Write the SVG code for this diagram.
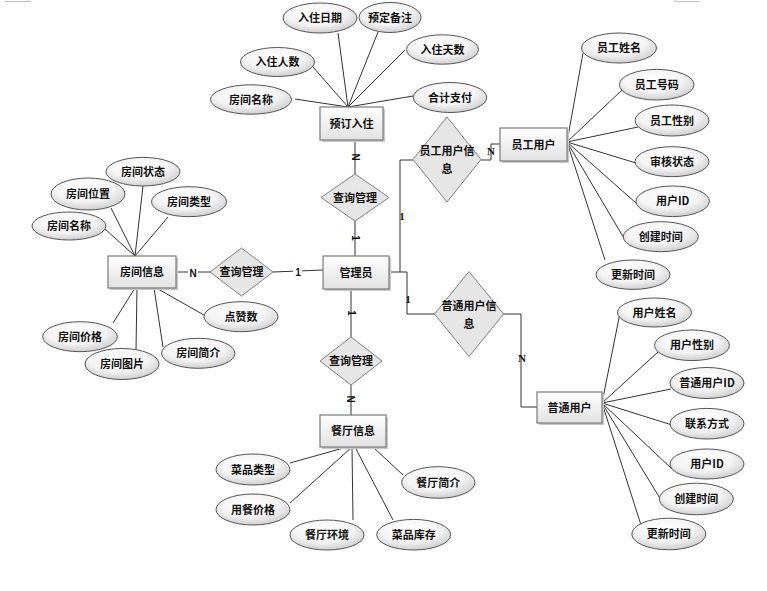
<svg xmlns="http://www.w3.org/2000/svg" width="767" height="591" viewBox="0 0 767 591">
<defs>
<radialGradient id="eg" cx="45%" cy="35%" r="65%">
<stop offset="0" stop-color="#ffffff"/>
<stop offset="0.6" stop-color="#f4f4f4"/>
<stop offset="1" stop-color="#cfcfcf"/>
</radialGradient>
<linearGradient id="rg" x1="0" y1="0" x2="0" y2="1">
<stop offset="0" stop-color="#ffffff"/>
<stop offset="1" stop-color="#e2e2e2"/>
</linearGradient>
<style>
.e{fill:url(#eg);stroke:#555;stroke-width:1}
.r{fill:url(#rg);stroke:#7a7a7a;stroke-width:1.2}
.sh{fill:#c8c8c8}
.d{fill:#e6e6e6;stroke:#808080;stroke-width:1}
.t{font-family:"Noto Sans CJK SC","Noto Sans CJK JP",sans-serif;font-size:11px;font-weight:bold;fill:#111;text-anchor:middle}
.l{font-family:"Liberation Serif",serif;font-size:11px;font-weight:bold;fill:#111;text-anchor:middle}
.ls{font-family:"Liberation Sans",sans-serif;font-size:10px;font-weight:bold;fill:#111;text-anchor:middle}
.c{fill:none;stroke:#333;stroke-width:1}
.m{fill:none;stroke:#c0c0c0;stroke-width:1}
</style>
</defs>
<rect width="767" height="591" fill="#ffffff"/>
<g id="corner-marks">
<path class="m" d="M5 1.5H30V0M675 0V1.5H700"/>
</g>
<g id="connectors">
<!-- 预订入住 attributes -->
<path class="c" d="M348 107L295 99M348 107L313 67M348 107L338 33M348 107L378 32M348 107L405 50M348 107L413 96"/>
<!-- 房间信息 attributes -->
<path class="c" d="M135 256L143 186M135 256L111 208M135 256L168 217M135 256L105 229"/>
<path class="c" d="M135 288L113 323M137 288L136 350M154 288L163 347M158 289L204 315"/>
<!-- 员工用户 attributes -->
<path class="c" d="M567 142L583 53M567 142L622 90M567 142L638 127M567 142L636 163M567 142L636 203M567 142L625 240M567 142L605 260"/>
<!-- 普通用户 attributes -->
<path class="c" d="M602 403L620 313M602 403L658 352M602 403L671 389M602 403L672 425M602 403L672 469M602 403L661 500M602 403L641 525"/>
<!-- 餐厅信息 attributes -->
<path class="c" d="M347 447L290 463M352 447L290 503M352 447L353 520M355 447L393 520M373 447L403 475"/>
<!-- relationships -->
<path class="c" d="M355 140V174M355 221V256"/>
<path class="c" d="M176 272H210M273 272L323 270"/>
<path class="c" d="M351 289V337M351 385V415"/>
<path class="c" d="M389 272H407V314H435M400 272V160H413"/>
<path class="c" d="M481 160H491V144H500"/>
<path class="c" d="M503 314H521V407H537"/>
</g>
<g id="labels">
<text class="ls" transform="translate(355 157) rotate(90)" y="3.5">N</text>
<text class="ls" transform="translate(355 238) rotate(90)" y="3.5">1</text>
<text class="ls" transform="translate(351 313) rotate(90)" y="3.5">1</text>
<text class="ls" transform="translate(350 399) rotate(90)" y="3.5">N</text>
<rect x="188" y="266" width="10" height="12" fill="#fff"/>
<text class="ls" x="193" y="277">N</text>
<rect x="293" y="266" width="9" height="12" fill="#fff"/>
<text class="ls" x="298" y="276">1</text>
<text class="l" x="402" y="220">1</text>
<text class="l" x="408" y="303">1</text>
<text class="l" x="491" y="155">N</text>
<text class="l" x="522" y="362">N</text>
</g>
<g id="n-yuding">
<rect class="sh" x="322" y="109" width="63" height="33"/>
<rect class="r" x="320" y="107" width="63" height="33"/>
<text class="t" x="351.5" y="127.5">预订入住</text>
</g>
<g id="a-ruzhuriqi"><ellipse class="e" cx="320" cy="18" rx="37" ry="15"/><text class="t" x="320" y="22">入住日期</text></g>
<g id="a-yudingbeizhu"><ellipse class="e" cx="390" cy="17.5" rx="31" ry="15"/><text class="t" x="390" y="21.5">预定备注</text></g>
<g id="a-ruzhurenshu"><ellipse class="e" cx="277.5" cy="62" rx="37" ry="14.5"/><text class="t" x="277.5" y="66">入住人数</text></g>
<g id="a-ruzhutianshu"><ellipse class="e" cx="442.5" cy="49.5" rx="36" ry="14.7"/><text class="t" x="442.5" y="53.5">入住天数</text></g>
<g id="a-fangjianmingcheng1"><ellipse class="e" cx="251" cy="99.5" rx="40.5" ry="14.7"/><text class="t" x="251" y="103.5">房间名称</text></g>
<g id="a-hejizhifu"><ellipse class="e" cx="450" cy="97.5" rx="36.7" ry="15"/><text class="t" x="450" y="101.5">合计支付</text></g>

<g id="r-chaxun-top">
<polygon class="d" points="355,174 389,197.5 355,221 321,197.5"/>
<text class="t" x="355" y="201.5">查询管理</text>
</g>

<g id="n-guanliyuan">
<rect class="sh" x="325" y="258" width="66" height="33"/>
<rect class="r" x="323" y="256" width="66" height="33"/>
<text class="t" x="356" y="276.5">管理员</text>
</g>

<g id="n-fangjianxinxi">
<rect class="sh" x="110" y="258" width="68" height="32"/>
<rect class="r" x="108" y="256" width="68" height="32"/>
<text class="t" x="142" y="276">房间信息</text>
</g>
<g id="a-fangjianzhuangtai"><ellipse class="e" cx="143" cy="171.7" rx="37" ry="14.3"/><text class="t" x="143" y="175.7">房间状态</text></g>
<g id="a-fangjianweizhi"><ellipse class="e" cx="88" cy="194" rx="37" ry="16"/><text class="t" x="88" y="198">房间位置</text></g>
<g id="a-fangjianleixing"><ellipse class="e" cx="189" cy="201.7" rx="37.5" ry="15"/><text class="t" x="189" y="205.7">房间类型</text></g>
<g id="a-fangjianmingcheng2"><ellipse class="e" cx="69" cy="226" rx="37" ry="14"/><text class="t" x="69" y="230">房间名称</text></g>
<g id="a-fangjianjiage"><ellipse class="e" cx="80" cy="336.7" rx="37.3" ry="15"/><text class="t" x="80" y="340.7">房间价格</text></g>
<g id="a-fangjiantupian"><ellipse class="e" cx="122" cy="364" rx="37" ry="15.5"/><text class="t" x="122" y="368">房间图片</text></g>
<g id="a-fangjianjianjie"><ellipse class="e" cx="198.3" cy="353.3" rx="36.7" ry="15"/><text class="t" x="198.3" y="357.3">房间简介</text></g>
<g id="a-dianzanshu"><ellipse class="e" cx="241" cy="316.7" rx="37" ry="15"/><text class="t" x="241" y="320.7">点赞数</text></g>

<g id="r-chaxun-left">
<polygon class="d" points="241.5,248 273,272 241.5,296 210,272"/>
<text class="t" x="241.5" y="276">查询管理</text>
</g>

<g id="r-yuangong">
<polygon class="d" points="447,117 481,159.5 447,202 413,159.5"/>
<text class="t" x="447" y="155">员工用户信</text>
<text class="t" x="447" y="173">息</text>
</g>
<g id="n-yuangongyonghu">
<rect class="sh" x="502" y="130" width="67" height="33"/>
<rect class="r" x="500" y="128" width="67" height="33"/>
<text class="t" x="533.5" y="148.5">员工用户</text>
</g>
<g id="a-yuangongxingming"><ellipse class="e" cx="619" cy="48" rx="37.5" ry="15"/><text class="t" x="619" y="52">员工姓名</text></g>
<g id="a-yuangonghaoma"><ellipse class="e" cx="656.7" cy="84.7" rx="37.3" ry="15.3"/><text class="t" x="656.7" y="88.7">员工号码</text></g>
<g id="a-yuangongxingbie"><ellipse class="e" cx="672" cy="120.5" rx="37" ry="15.5"/><text class="t" x="672" y="124.5">员工性别</text></g>
<g id="a-shenhezhuangtai"><ellipse class="e" cx="672" cy="161.7" rx="37" ry="15"/><text class="t" x="672" y="165.7">审核状态</text></g>
<g id="a-yonghuid1"><ellipse class="e" cx="672.7" cy="201.3" rx="36.7" ry="15.3"/><text class="t" x="672.7" y="205.3">用户ID</text></g>
<g id="a-chuangjianshijian1"><ellipse class="e" cx="660.8" cy="236.7" rx="37.5" ry="15"/><text class="t" x="660.8" y="240.7">创建时间</text></g>
<g id="a-gengxinshijian1"><ellipse class="e" cx="633" cy="274.7" rx="37" ry="14.7"/><text class="t" x="633" y="278.7">更新时间</text></g>

<g id="r-putong">
<polygon class="d" points="469,271.5 503.5,314 469,356.5 434.5,314"/>
<text class="t" x="469" y="310">普通用户信</text>
<text class="t" x="469" y="328">息</text>
</g>
<g id="n-putongyonghu">
<rect class="sh" x="539" y="394" width="65" height="31"/>
<rect class="r" x="537" y="392" width="65" height="31"/>
<text class="t" x="569.5" y="411.5">普通用户</text>
</g>
<g id="a-yonghuxingming"><ellipse class="e" cx="654.5" cy="312.5" rx="37" ry="14.5"/><text class="t" x="654.5" y="316.5">用户姓名</text></g>
<g id="a-yonghuxingbie"><ellipse class="e" cx="692" cy="345.3" rx="37.5" ry="15.3"/><text class="t" x="692" y="349.3">用户性别</text></g>
<g id="a-putongyonghuid"><ellipse class="e" cx="707" cy="383" rx="37" ry="15.5"/><text class="t" x="707" y="387">普通用户ID</text></g>
<g id="a-lianxifangshi"><ellipse class="e" cx="707" cy="423.7" rx="37" ry="15.3"/><text class="t" x="707" y="427.7">联系方式</text></g>
<g id="a-yonghuid2"><ellipse class="e" cx="707" cy="464" rx="37" ry="15"/><text class="t" x="707" y="468">用户ID</text></g>
<g id="a-chuangjianshijian2"><ellipse class="e" cx="696.3" cy="499" rx="37" ry="15.8"/><text class="t" x="696.3" y="503">创建时间</text></g>
<g id="a-gengxinshijian2"><ellipse class="e" cx="668.8" cy="534" rx="37" ry="15.8"/><text class="t" x="668.8" y="538">更新时间</text></g>

<g id="r-chaxun-bottom">
<polygon class="d" points="351,337 382,361 351,385 320,361"/>
<text class="t" x="351" y="365">查询管理</text>
</g>
<g id="n-cantingxinxi">
<rect class="sh" x="322" y="417" width="66" height="32"/>
<rect class="r" x="320" y="415" width="66" height="32"/>
<text class="t" x="353" y="435">餐厅信息</text>
</g>
<g id="a-caipinleixing"><ellipse class="e" cx="253" cy="469.5" rx="37" ry="15.5"/><text class="t" x="253" y="473.5">菜品类型</text></g>
<g id="a-yongcanjiage"><ellipse class="e" cx="253" cy="509.5" rx="37" ry="15.5"/><text class="t" x="253" y="513.5">用餐价格</text></g>
<g id="a-cantinghuanjing"><ellipse class="e" cx="327" cy="535" rx="37" ry="15"/><text class="t" x="327" y="539">餐厅环境</text></g>
<g id="a-caipinkucun"><ellipse class="e" cx="413.7" cy="534.7" rx="37" ry="15.3"/><text class="t" x="413.7" y="538.7">菜品库存</text></g>
<g id="a-cantingjianjie"><ellipse class="e" cx="438.3" cy="482.5" rx="36.7" ry="15.8"/><text class="t" x="438.3" y="486.5">餐厅简介</text></g>
</svg>
